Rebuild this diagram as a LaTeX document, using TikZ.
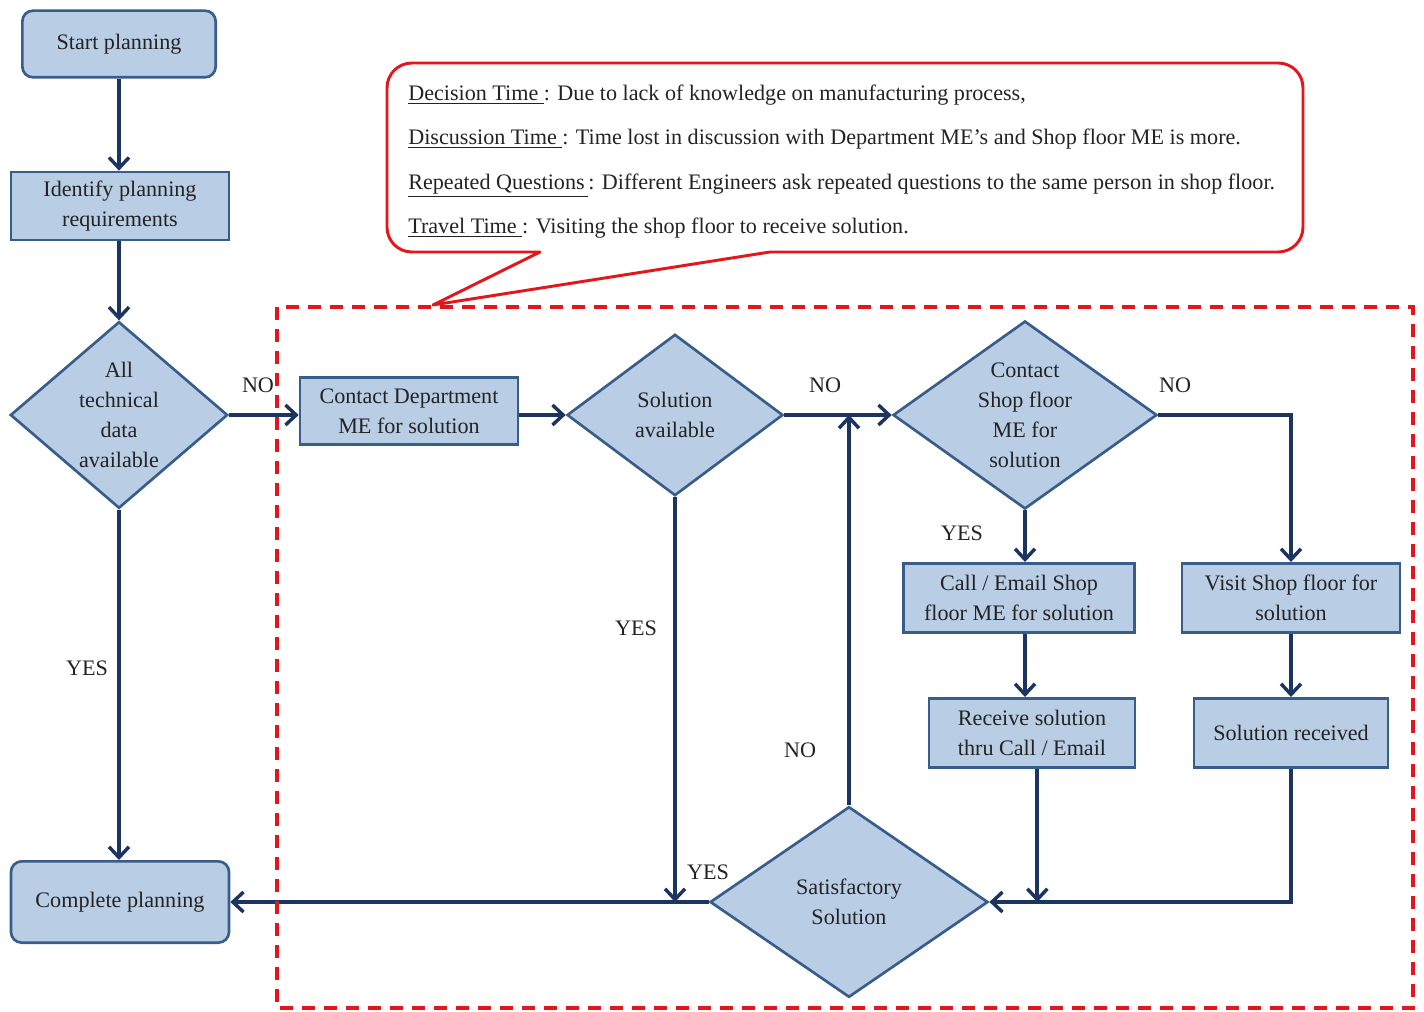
\documentclass[tikz,border=0pt]{standalone}
\usepackage{fontspec}
\setmainfont{Liberation Serif}
\usetikzlibrary{shapes.geometric,arrows.meta}

\definecolor{boxfill}{RGB}{185,205,229}
\definecolor{boxline}{RGB}{56,93,138}
\definecolor{flowline}{RGB}{28,52,96}
\definecolor{notered}{RGB}{228,22,28}
\definecolor{txtgray}{RGB}{35,35,35}

\begin{document}
\begin{tikzpicture}[x=0.75pt,y=0.75pt,yscale=-1,xscale=1,
  every node/.style={font=\fontsize{16.6}{22.5}\selectfont,text=txtgray},
  procbox/.style={draw=boxline,fill=boxfill,line width=2pt,inner sep=0pt,align=center},
  termbox/.style={procbox,rounded corners=8pt},
  decbox/.style={procbox,shape=diamond,inner sep=-45pt},
  flow/.style={draw=flowline,line width=3pt,-{Straight Barb[length=8pt,width=15pt,line width=2.6pt]}},
  link/.style={draw=flowline,line width=3pt},
  lbl/.style={inner sep=0pt},
  notetxt/.style={anchor=base west,inner sep=0pt},
  region/.style={draw=notered,line width=2.6pt,dash pattern=on 10pt off 6.5pt},
  callout/.style={draw=notered,line width=2.2pt,line join=round}]
	\useasboundingbox (0,0) rectangle (1424,1012);
	
	%Flowchart: Terminator
	\node[termbox,minimum width=145pt,minimum height=50pt] (start) at (119,44) {Start planning};
	%Flowchart: Process
	\node[procbox,minimum width=163.5pt,minimum height=51pt] (ident) at (120,206) {Identify planning\\requirements};
	%Flowchart: Decision
	\node[decbox,minimum width=163pt,minimum height=140pt] (alltech) at (119,415) {All\\technical\\data\\available};
	%Flowchart: Terminator
	\node[termbox,minimum width=163.5pt,minimum height=61pt] (complete) at (120,902) {Complete planning};
	%Flowchart: Process
	\node[procbox,minimum width=163.5pt,minimum height=50pt] (contdept) at (409,411) {Contact Department\\ME for solution};
	%Flowchart: Decision
	\node[decbox,minimum width=162pt,minimum height=121pt] (solavail) at (675,415) {Solution\\available};
	%Flowchart: Decision
	\node[decbox,minimum width=198pt,minimum height=141pt] (contshop) at (1025,415) {Contact\\Shop floor\\ME for\\solution};
	%Flowchart: Process
	\node[procbox,minimum width=173pt,minimum height=52pt] (callmail) at (1019,598) {Call / Email Shop\\floor ME for solution};
	\node[procbox,minimum width=163.5pt,minimum height=52pt] (visit) at (1291,598) {Visit Shop floor for\\solution};
	\node[procbox,minimum width=154.5pt,minimum height=52pt] (receive) at (1032,733) {Receive solution\\thru Call / Email};
	\node[procbox,minimum width=145.5pt,minimum height=52pt] (solrec) at (1291,733) {Solution received};
	%Flowchart: Decision
	\node[decbox,minimum width=208.5pt,minimum height=143pt] (satis) at (849,902) {Satisfactory\\Solution};
	
	%Straight Lines
	\draw[flow] (start.south) -- (start.south |- ident.north);
	\draw[flow] (ident.south -| alltech.north) -- (alltech.north);
	\draw[flow] (alltech.east) -- (alltech.east -| contdept.west);
	\draw[flow] (alltech.south) -- (alltech.south |- complete.north);
	\draw[flow] (contdept.east |- solavail.west) -- (solavail.west);
	\draw[flow] (solavail.east) -- (contshop.west);
	\draw[flow] (solavail.south) -- (solavail.south |- satis.west);
	\draw[flow] (satis.north) -- (satis.north |- solavail.east);
	\draw[flow] (contshop.east) -| (visit.north);
	\draw[flow] (contshop.south) -- (contshop.south |- callmail.north);
	\draw[flow] (contshop.south |- callmail.south) -- (contshop.south |- receive.north);
	\draw[flow] (visit.south) -- (solrec.north);
	\draw[flow] ([xshift=4pt]receive.south) -- ([xshift=4pt]receive.south |- satis.east);
	\draw[flow] (solrec.south) |- (satis.east);
	\draw[flow] (satis.west) -- (satis.west -| complete.east);
	
	% Text Node
	\node[lbl] (noA) at (258,385) {NO};
	\node[lbl] (yesA) at (87,668) {YES};
	\node[lbl] (noB) at (825,385) {NO};
	\node[lbl] (yesB) at (636,628) {YES};
	\node[lbl] (noC) at (1175,385) {NO};
	\node[lbl] (yesC) at (962,533) {YES};
	\node[lbl] (noD) at (800,750) {NO};
	\node[lbl] (yesD) at (708,872) {YES};
	
	%Shape: Rectangle (dashed)
	\draw[region] (277,307) rectangle (1413,1008);
	
	%Shape: Rounded Rectangle Callout
	\draw[callout] (540,252) -- (433,305) -- (770,252) -- (1278,252) .. controls (1292,252) and (1303,241) .. (1303,227) -- (1303,88) .. controls (1303,74) and (1292,63) .. (1278,63) -- (412,63) .. controls (398,63) and (387,74) .. (387,88) -- (387,227) .. controls (387,241) and (398,252) .. (412,252) -- cycle;
	
	% Text Node
	\node[notetxt] (decision) at (408,101) {\underline{Decision Time\ }: Due to lack of knowledge on manufacturing process,};
	\node[notetxt] (discussion) at (408,145) {\underline{Discussion Time\ }: Time lost in discussion with Department ME’s and Shop floor ME is more.};
	\node[notetxt] (repeated) at (408,190) {\underline{Repeated Questions\,}: Different Engineers ask repeated questions to the same person in shop floor.};
	\node[notetxt] (travel) at (408,234) {\underline{Travel Time\ }: Visiting the shop floor to receive solution.};
	
\end{tikzpicture}
\end{document}
